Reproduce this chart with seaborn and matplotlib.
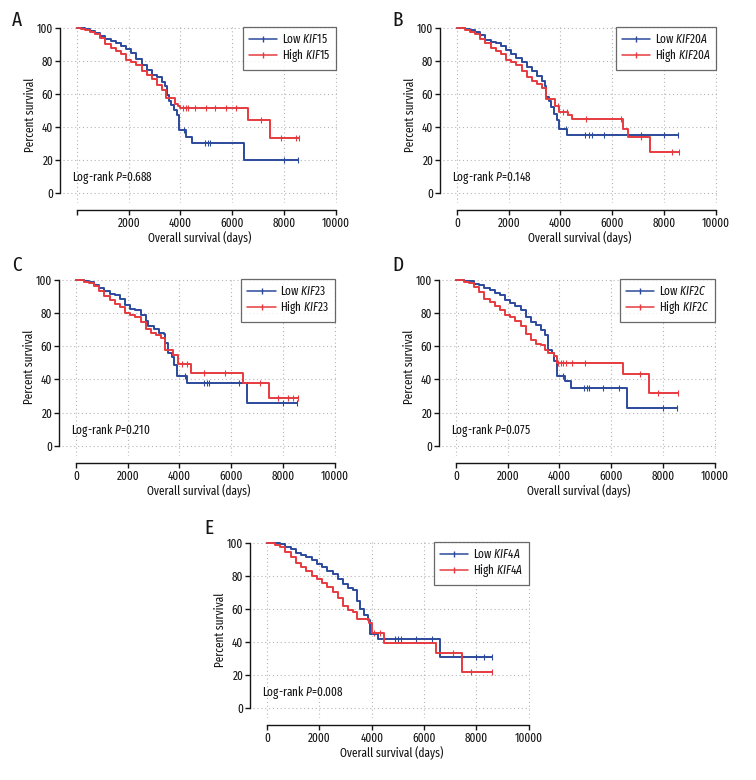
import matplotlib
matplotlib.use("Agg")
import matplotlib.pyplot as plt
from matplotlib import font_manager
from matplotlib.lines import Line2D
import seaborn as sns

BLUE = "#2c4a9c"
RED = "#e63a3f"

# -------------------------
# Data
# -------------------------
genes = ["KIF15", "KIF20A", "KIF23", "KIF2C", "KIF4A"]
letters = ["A", "B", "C", "D", "E"]
pvals = ["0.688", "0.148", "0.210", "0.075", "0.008"]

# KIF15
a_low_t = [0, 150, 300, 500, 700, 900, 1100, 1300, 1500, 1700, 1900, 2100, 2300, 2500, 2700, 2900, 3100, 3300, 3420, 3470, 3550, 3650, 3750, 3850, 3950, 4200, 4450, 6450, 8550]
a_low_s = [100, 99.5, 99, 98, 96.5, 95, 93, 92, 90.5, 89, 87, 84.5, 81, 77.5, 74.5, 71.5, 70, 67, 65, 59, 55.5, 53, 50, 47, 38, 34, 30, 20, 20]
a_high_t = [0, 150, 300, 500, 700, 900, 1100, 1300, 1500, 1700, 1900, 2100, 2300, 2500, 2700, 2900, 3100, 3300, 3450, 3800, 3900, 4000, 6600, 7450, 8600]
a_high_s = [100, 99, 98.5, 97.5, 96, 94, 90, 87.5, 86, 84, 80.5, 79.5, 77.5, 74, 71.5, 69, 65.5, 62.5, 57.5, 54, 52.5, 51.5, 44, 33, 33]
a_low_ct = [4150, 4950, 5050, 5150, 8000, 8550]
a_low_cs = [38, 30, 30, 30, 20, 20]
a_high_ct = [4100, 4200, 4300, 4550, 5000, 5350, 5750, 6150, 7100, 7900, 8450, 8600]
a_high_cs = [51.5, 51.5, 51.5, 51.5, 51.5, 51.5, 51.5, 51.5, 44, 33, 33, 33]

# KIF20A
b_low_t = [0, 150, 300, 500, 700, 900, 1100, 1300, 1500, 1700, 1900, 2100, 2300, 2500, 2700, 2900, 3100, 3300, 3400, 3450, 3550, 3650, 3750, 3850, 3950, 4250, 8550]
b_low_s = [100, 99.6, 99.2, 98.8, 97.5, 95.5, 92.5, 91.5, 90.5, 89, 86.5, 84, 81.5, 79, 76.5, 74, 71, 68, 64.5, 58, 55.5, 52, 48, 44, 39, 35, 35]
b_high_t = [0, 150, 300, 500, 700, 900, 1100, 1300, 1500, 1700, 1900, 2100, 2300, 2500, 2700, 2900, 3100, 3300, 3450, 3800, 3950, 4300, 4450, 6400, 6600, 7450, 8600]
b_high_s = [100, 99.5, 98.5, 97.5, 96, 93, 90.5, 88, 86, 84, 80.5, 79.5, 77.5, 74, 70, 68, 66, 63.5, 57, 52.5, 49, 47.5, 45, 39, 34, 25, 25]
b_low_ct = [4200, 4950, 5100, 5200, 5700, 7100, 8000, 8550]
b_low_cs = [39, 35, 35, 35, 35, 35, 35, 35]
b_high_ct = [3900, 4100, 4250, 5000, 6350, 7100, 8300, 8600]
b_high_cs = [52.5, 49, 49, 45, 45, 34, 25, 25]

# KIF23
c_low_t = [0, 150, 300, 500, 700, 900, 1100, 1300, 1500, 1700, 1900, 2100, 2300, 2500, 2700, 2800, 3000, 3200, 3400, 3450, 3550, 3700, 3800, 3900, 4300, 6600, 8550]
c_low_s = [100, 99.5, 99, 98.5, 97, 95, 93, 91.5, 90.5, 88.5, 85, 82.5, 82, 79, 75, 72, 70.5, 68, 67.5, 62, 56, 53.5, 49, 42, 38, 26, 26]
c_high_t = [0, 150, 300, 500, 700, 900, 1100, 1300, 1500, 1700, 1900, 2100, 2300, 2500, 2700, 2900, 3100, 3300, 3450, 3750, 3950, 4450, 6450, 7450, 8600]
c_high_s = [100, 99.5, 98.5, 98, 96, 93, 90, 88, 85.5, 83.5, 80, 79, 77.5, 74.5, 70.5, 68, 66.5, 65, 58, 55, 49.5, 44, 38, 29, 29]
c_low_ct = [4200, 4950, 5050, 5150, 6300, 8000, 8550]
c_low_cs = [42, 38, 38, 38, 38, 26, 26]
c_high_ct = [4100, 4300, 4950, 5750, 7100, 7800, 8200, 8400, 8600]
c_high_cs = [49.5, 49.5, 44, 44, 38, 29, 29, 29, 29]

# KIF2C
d_low_t = [0, 150, 300, 500, 700, 900, 1100, 1300, 1500, 1700, 1900, 2100, 2300, 2500, 2700, 2900, 3100, 3300, 3450, 3550, 3700, 3800, 3900, 4200, 4450, 6600, 8550]
d_low_s = [100, 99.6, 99.3, 99, 97.5, 96.5, 95, 93.5, 92, 90.5, 88, 86, 84, 82, 77.5, 74.5, 72.5, 70, 67, 58, 56, 51, 42, 39, 35, 23, 23]
d_high_t = [0, 150, 300, 500, 700, 900, 1100, 1300, 1500, 1700, 1900, 2100, 2300, 2500, 2700, 2900, 3100, 3300, 3450, 3550, 3800, 3900, 6450, 7450, 8600]
d_high_s = [100, 99.5, 98.5, 98, 95.5, 92.5, 88.5, 86.5, 84, 81.5, 79, 77.5, 75, 72, 67.5, 63.5, 61.5, 61, 58, 56, 54, 50, 43, 32, 32]
d_low_ct = [4150, 4950, 5050, 5150, 5700, 6300, 8000, 8550]
d_low_cs = [42, 35, 35, 35, 35, 35, 23, 23]
d_high_ct = [3950, 4050, 4150, 4250, 4500, 5000, 7100, 7800, 8600]
d_high_cs = [50, 50, 50, 50, 50, 50, 43, 32, 32]

# KIF4A
e_low_t = [0, 150, 300, 500, 700, 900, 1100, 1300, 1500, 1700, 1900, 2100, 2300, 2500, 2700, 2900, 3100, 3300, 3450, 3550, 3700, 3850, 3950, 4250, 6600, 8600]
e_low_s = [100, 99.8, 99.5, 99, 97.5, 96, 94, 92.5, 91.5, 89.5, 87, 85, 83, 81, 78, 75, 72.5, 71.5, 65, 60, 56, 53, 45, 41.5, 31, 31]
e_high_t = [0, 150, 300, 500, 700, 900, 1100, 1300, 1500, 1700, 1900, 2100, 2300, 2500, 2700, 2900, 3100, 3300, 3450, 3700, 3900, 4000, 4450, 6450, 7450, 8600]
e_high_s = [100, 99.5, 98.5, 97.5, 94.5, 91.5, 87.5, 85, 83, 80, 78, 75.5, 73, 70, 66.5, 62, 59.5, 58, 54, 54, 51.5, 45.5, 39.5, 33, 22, 22]
e_low_ct = [4900, 5000, 5100, 5700, 6300, 8000, 8300, 8600]
e_low_cs = [41.5, 41.5, 41.5, 41.5, 41.5, 31, 31, 31]
e_high_ct = [4100, 4300, 7100, 7800, 8600]
e_high_cs = [45.5, 45.5, 33, 22, 22]

curves = [
    (a_low_t, a_low_s, a_high_t, a_high_s, a_low_ct, a_low_cs, a_high_ct, a_high_cs),
    (b_low_t, b_low_s, b_high_t, b_high_s, b_low_ct, b_low_cs, b_high_ct, b_high_cs),
    (c_low_t, c_low_s, c_high_t, c_high_s, c_low_ct, c_low_cs, c_high_ct, c_high_cs),
    (d_low_t, d_low_s, d_high_t, d_high_s, d_low_ct, d_low_cs, d_high_ct, d_high_cs),
    (e_low_t, e_low_s, e_high_t, e_high_s, e_low_ct, e_low_cs, e_high_ct, e_high_cs),
]

# axes boxes in pixels: left, top, width, height (figure 756 x 780)
boxes = [
    (63, 26, 274, 177),
    (443, 26, 274, 177),
    (62, 278, 274, 178),
    (442, 278, 274, 178),
    (253, 541, 277, 177),
]
letter_pos = [(12, 20), (392, 20), (12, 265), (392, 265), (204, 528)]

# condensed humanist face, first one that is installed
FONT_CANDIDATES = ["Fira Sans Extra Condensed", "Fira Sans Condensed", "PT Sans Narrow",
                   "Roboto Condensed", "Liberation Sans Narrow", "DejaVu Sans"]


def pick_font():
    installed = {f.name for f in font_manager.fontManager.ttflist}
    for name in FONT_CANDIDATES:
        if name in installed:
            return name
    return "DejaVu Sans"


FS = 8.8
INK = "#151515"


# -------------------------
# Single KM panel
# -------------------------
def km_panel(ax, idx):

    lt, ls, ht, hs, lct, lcs, hct, hcs = curves[idx]
    gene = genes[idx]

    sns.lineplot(x=lt, y=ls, ax=ax, color=BLUE, lw=1.4,
                 drawstyle="steps-post", estimator=None, sort=False)
    sns.lineplot(x=ht, y=hs, ax=ax, color=RED, lw=1.4,
                 drawstyle="steps-post", estimator=None, sort=False)
    sns.scatterplot(x=lct, y=lcs, ax=ax, color=BLUE, marker="|", s=16, linewidth=0.8)
    sns.scatterplot(x=hct, y=hcs, ax=ax, color=RED, marker="|", s=16, linewidth=0.8)

    ax.set_xlim(-540, 10050)
    ax.set_ylim(-6, 101)
    ax.set_xticks([0, 2000, 4000, 6000, 8000, 10000])
    ax.set_yticks([0, 20, 40, 60, 80, 100])
    if idx == 0:
        ax.set_xticklabels(["", "2000", "4000", "6000", "8000", "10000"])

    ax.grid(True, ls=(0, (1, 2.5)), color="#b5b5b5", lw=0.8)
    ax.set_axisbelow(True)

    sns.despine(ax=ax, offset={"left": 2, "bottom": 5})
    ax.spines["left"].set_bounds(0, 100)
    ax.spines["bottom"].set_bounds(0, 10000)
    for s in ["left", "bottom"]:
        ax.spines[s].set_color(INK)
        ax.spines[s].set_linewidth(1.0)

    ax.tick_params(direction="out", length=3.5, width=1.0, color=INK,
                   labelsize=FS, pad=1.5, left=True, bottom=True)

    ax.set_xlabel("Overall survival (days)", fontsize=FS, labelpad=1.5)
    ax.set_ylabel("Percent survival", fontsize=FS, labelpad=0)

    ax.text(-200, 9.5, "Log-rank $\\mathit{P}$=$\\mathit{" + pvals[idx] + "}$",
            fontsize=FS, ha="left", va="center")

    handles = [
        Line2D([0], [0], color=BLUE, lw=1.1, marker="|", markersize=4),
        Line2D([0], [0], color=RED, lw=1.1, marker="|", markersize=4),
    ]
    labels = ["Low $\\mathit{" + gene + "}$", "High $\\mathit{" + gene + "}$"]
    leg = ax.legend(handles, labels, loc="upper right", fontsize=FS,
                    frameon=True, fancybox=False, borderaxespad=0.05,
                    handlelength=2.3, handletextpad=0.4, labelspacing=0.1,
                    borderpad=0.5, numpoints=1)
    leg.get_frame().set_edgecolor("#444444")
    leg.get_frame().set_linewidth(0.9)


# -------------------------
# MAIN
# -------------------------
def main():

    sns.set_style("white")
    font = pick_font()
    plt.rcParams["font.family"] = [font, "DejaVu Sans"]
    plt.rcParams["mathtext.fontset"] = "custom"
    plt.rcParams["mathtext.rm"] = font
    plt.rcParams["mathtext.it"] = font + ":italic"
    plt.rcParams["text.color"] = INK
    plt.rcParams["axes.labelcolor"] = INK
    plt.rcParams["xtick.color"] = INK
    plt.rcParams["ytick.color"] = INK

    W, H = 756, 780
    fig = plt.figure(figsize=(W / 100, H / 100), dpi=100)

    for i, (l, t, w, h) in enumerate(boxes):
        ax = fig.add_axes([l / W, 1 - (t + h) / H, w / W, h / H])
        km_panel(ax, i)
        lx, ly = letter_pos[i]
        fig.text(lx / W, 1 - ly / H, letters[i], fontsize=15,
                 ha="left", va="center")

    fig.savefig("out.png", dpi=100)


if __name__ == "__main__":
    main()
